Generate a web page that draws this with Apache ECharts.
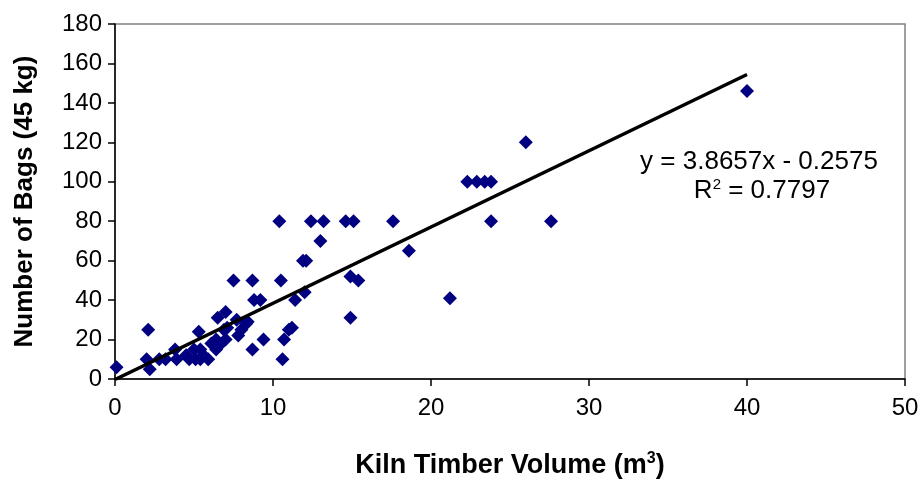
<!DOCTYPE html>
<html>
<head>
<meta charset="utf-8">
<script src="https://cdn.jsdelivr.net/npm/echarts@6/dist/echarts.min.js"></script>
<style>
html,body{margin:0;padding:0;background:#fff;}
#chart{width:922px;height:481px;}
</style>
</head>
<body>
<div id="chart"></div>
<script>
// Kiln timber volume (m3) and number of bags (45 kg)
const volumeX = [0.1, 2.0, 2.1, 2.2, 2.8, 3.2, 3.8, 3.9, 4.5, 4.7,
  5.0, 5.1, 5.3, 5.4, 5.4, 5.6, 5.9, 6.1, 6.4, 6.4,
  6.5, 6.6, 6.9, 7.0, 7.0, 7.1, 7.5, 7.7, 7.8, 8.0,
  8.3, 8.4, 8.7, 8.7, 8.8, 9.2, 9.4, 10.4, 10.5, 10.6,
  10.7, 11.0, 11.2, 11.4, 11.9, 12.1, 12.0, 12.4, 13.0, 13.2,
  14.6, 15.1, 14.9, 15.4, 14.9, 17.6, 18.6, 21.2, 22.3, 22.9,
  23.4, 23.8, 23.8, 26.0, 27.6, 40.0];
const bagsY = [6, 10, 25, 5, 10, 10, 15, 10, 12, 10,
  15, 10, 24, 15, 10, 12, 10, 18, 15, 20,
  31, 17, 25, 34, 20, 26, 50, 30, 22, 25,
  28, 29, 50, 15, 40, 40, 20, 80, 50, 10,
  20, 25, 26, 40, 60, 60, 44, 80, 70, 80,
  80, 80, 52, 50, 31, 80, 65, 41, 100, 100,
  100, 100, 80, 120, 80, 146];
// Linear trend line end points (y = 3.8657x - 0.2575)
const trendX = [0, 40];
const trendY = [-0.26, 154.37];
const xTicks = {min: 0, max: 50, interval: 10};
const yTicks = {min: 0, max: 180, interval: 20};
const equationText = 'y = 3.8657x - 0.2575';
const r2Text = 'R{sup|2} = 0.7797';

const FONT = '"Liberation Sans", Arial, sans-serif';
const points = volumeX.map((x, i) => [x, bagsY[i]]);
const trend = trendX.map((x, i) => [x, trendY[i]]);

const chart = echarts.init(document.getElementById('chart'), null, {renderer: 'canvas'});
chart.setOption({
  animation: false,
  backgroundColor: '#fff',
  grid: {left: 115, right: 17, top: 24, bottom: 102, show: true, outerBoundsMode: 'none', containLabel: false,
         borderColor: '#808080', borderWidth: 1.5, backgroundColor: 'transparent'},
  xAxis: {
    type: 'value', min: xTicks.min, max: xTicks.max, interval: xTicks.interval,
    name: 'Kiln Timber Volume (m{sup|3})', nameLocation: 'middle', nameGap: 72,
    nameTextStyle: {fontFamily: FONT, fontSize: 27, fontWeight: 'bold', color: '#000', lineHeight: 30,
      rich: {sup: {fontFamily: FONT, fontSize: 16, fontWeight: 'bold', color: '#000', verticalAlign: 'top', lineHeight: 14}}},
    axisLine: {show: true, onZero: false, lineStyle: {color: '#000', width: 1.5}},
    axisTick: {show: true, length: 7, lineStyle: {color: '#000', width: 1.5}},
    axisLabel: {fontFamily: FONT, fontSize: 24, color: '#000', margin: 17},
    splitLine: {show: false}
  },
  yAxis: {
    type: 'value', min: yTicks.min, max: yTicks.max, interval: yTicks.interval,
    name: 'Number of Bags (45 kg)', nameLocation: 'middle', nameGap: 77,
    nameTextStyle: {fontFamily: FONT, fontSize: 26, fontWeight: 'bold', color: '#000'},
    axisLine: {show: true, onZero: false, lineStyle: {color: '#000', width: 1.5}},
    axisTick: {show: true, length: 7, lineStyle: {color: '#000', width: 1.5}},
    axisLabel: {fontFamily: FONT, fontSize: 24, color: '#000', margin: 13},
    splitLine: {show: false}
  },
  series: [
    {
      type: 'scatter', data: points, symbol: 'diamond', symbolSize: 14,
      itemStyle: {color: '#000080', opacity: 1}, z: 3
    },
    {
      type: 'line', data: trend, symbol: 'none', showSymbol: false,
      lineStyle: {color: '#000', width: 3.5}, z: 4
    }
  ],
  graphic: [
    {type: 'text', x: 759, y: 162, z: 10,
     style: {text: equationText, fontFamily: FONT, fontSize: 26, fill: '#000', align: 'center', verticalAlign: 'middle'}},
    {type: 'text', x: 762, y: 191, z: 10,
     style: {text: r2Text, fontFamily: FONT, fontSize: 26, fill: '#000', align: 'center', verticalAlign: 'middle', lineHeight: 28,
       rich: {sup: {fontFamily: FONT, fontSize: 15, fill: '#000', verticalAlign: 'top', lineHeight: 14}}}}
  ]
});
</script>
</body>
</html>
